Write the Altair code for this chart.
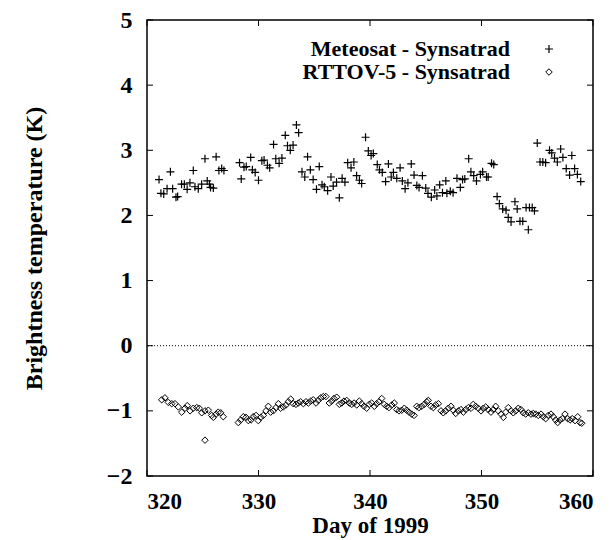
import altair as alt
import pandas as pd

# Meteosat - Synsatrad (plus markers)
met_day = [321.08, 321.25, 321.5, 321.8, 322.1, 322.3, 322.6, 322.75, 323.1, 323.35,
           323.6, 323.85, 324.15, 324.3, 324.6, 324.9, 325.2, 325.4, 325.6, 325.7,
           325.95, 326.2, 326.45, 326.7, 326.9, 328.3, 328.45, 328.7, 328.9, 329.3,
           329.45, 329.7, 330.0, 330.3, 330.5, 330.8, 331.0, 331.35, 331.55, 331.85,
           332.1, 332.4, 332.6, 332.85, 333.1, 333.4, 333.6, 333.9, 334.15, 334.4,
           334.65, 334.9, 335.2, 335.45, 335.7, 335.9, 336.2, 336.5, 336.7, 337.0,
           337.25, 337.5, 337.75, 338.0, 338.3, 338.55, 338.8, 339.05, 339.25, 339.6,
           339.85, 340.1, 340.3, 340.65, 340.85, 341.1, 341.4, 341.65, 341.9, 342.1,
           342.4, 342.7, 342.9, 343.15, 343.4, 343.7, 343.95, 344.2, 344.4, 344.7,
           345.0, 345.2, 345.5, 345.8, 346.0, 346.25, 346.5, 346.8, 346.9, 347.2,
           347.45, 347.8, 348.1, 348.3, 348.5, 348.85, 349.05, 349.3, 349.55, 349.9,
           350.1, 350.45, 350.6, 350.9, 351.1, 351.4, 351.6, 351.9, 352.2, 352.4,
           352.65, 353.0, 353.2, 353.45, 353.7, 354.0, 354.2, 354.3, 354.55, 354.75,
           355.0, 355.25, 355.5, 355.75, 356.1, 356.3, 356.55, 356.8, 357.1, 357.3,
           357.6, 357.9, 358.1, 358.35, 358.6, 358.9]
met_val = [2.55, 2.34, 2.33, 2.41, 2.67, 2.41, 2.28, 2.29, 2.48, 2.48,
           2.40, 2.50, 2.69, 2.44, 2.41, 2.48, 2.87, 2.53, 2.48, 2.43,
           2.42, 2.90, 2.69, 2.72, 2.69, 2.81, 2.56, 2.74, 2.75, 2.89,
           2.70, 2.66, 2.54, 2.84, 2.85, 2.77, 2.73, 3.09, 2.87, 2.80,
           2.88, 3.23, 3.07, 3.00, 3.08, 3.39, 3.27, 2.67, 2.59, 2.90,
           2.70, 2.55, 2.40, 2.75, 2.47, 2.44, 2.38, 2.59, 2.45, 2.51,
           2.27, 2.57, 2.51, 2.81, 2.73, 2.82, 2.61, 2.54, 2.49, 3.20,
           2.99, 2.92, 2.95, 2.78, 2.70, 2.66, 2.52, 2.79, 2.59, 2.66,
           2.57, 2.73, 2.53, 2.41, 2.50, 2.79, 2.62, 2.46, 2.43, 2.61,
           2.42, 2.34, 2.28, 2.39, 2.30, 2.47, 2.35, 2.53, 2.34, 2.37,
           2.35, 2.57, 2.43, 2.55, 2.56, 2.87, 2.67, 2.61, 2.53, 2.63,
           2.67, 2.59, 2.59, 2.80, 2.78, 2.29, 2.18, 2.10, 2.08, 1.97,
           1.90, 2.21, 2.10, 1.91, 1.91, 2.12, 1.78, 2.12, 2.12, 2.07,
           3.11, 2.82, 2.82, 2.81, 3.00, 2.96, 2.88, 2.82, 3.02, 2.89,
           2.72, 2.62, 2.92, 2.72, 2.63, 2.52]

# RTTOV-5 - Synsatrad (diamond markers)
rt_day = [321.32, 321.61, 321.91, 322.22, 322.51, 322.81, 323.11, 323.41, 323.61, 323.86,
          324.15, 324.46, 324.69, 324.91, 325.20, 325.50, 325.80, 325.95, 326.19, 326.39,
          326.61, 326.84, 325.20,
          328.19, 328.40, 328.64, 328.88, 329.09, 329.33, 329.53, 329.78, 329.98, 330.20,
          330.43, 330.67, 330.88, 331.09, 331.33, 331.57, 331.78, 331.99, 332.22, 332.47,
          332.67, 332.89, 333.12, 333.36, 333.57, 333.78, 334.02, 334.26, 334.47, 334.68,
          334.91, 335.16, 335.36, 335.58, 335.81, 336.05, 336.35, 336.57, 336.77, 337.01,
          337.25, 337.46, 337.67, 337.91, 338.14, 338.36, 338.57, 338.81, 339.04, 339.26,
          339.46, 339.70, 339.94, 340.15, 340.39, 340.60, 340.81, 341.05, 341.28, 341.50,
          341.70, 341.95, 342.18, 342.39, 342.60, 342.84, 343.08, 343.29, 343.50, 343.74,
          343.95, 344.19, 344.39, 344.64, 344.87, 345.09, 345.23, 345.47, 345.68, 345.89,
          346.13, 346.37, 346.57, 346.79, 347.02, 347.26, 347.47, 347.69, 347.92, 348.16,
          348.37, 348.58, 348.82, 349.06, 349.26, 349.48, 349.71, 349.96, 350.16, 350.38,
          350.61, 350.85, 351.06, 351.27, 351.51, 351.75, 351.96, 352.17, 352.40, 352.65,
          352.85, 353.07, 353.30, 353.54, 353.75, 353.96, 354.20, 354.44, 354.65, 354.86,
          355.09, 355.34, 355.54, 355.76, 355.99, 356.23, 356.44, 356.65, 356.83, 357.04,
          357.25, 357.49, 357.73, 357.94, 358.14, 358.39, 358.63, 358.83, 358.99]
rt_val = [-0.83, -0.80, -0.87, -0.89, -0.89, -0.94, -1.02, -0.96, -0.92, -1.00,
          -0.96, -0.95, -0.96, -1.03, -1.00, -0.99, -1.07, -1.10, -1.05, -1.02,
          -1.03, -1.09, -1.45,
          -1.18, -1.14, -1.09, -1.10, -1.15, -1.14, -1.09, -1.07, -1.15, -1.10,
          -1.07, -1.00, -0.93, -1.02, -1.00, -0.95, -0.89, -0.96, -0.94, -0.91,
          -0.86, -0.82, -0.89, -0.90, -0.88, -0.86, -0.89, -0.86, -0.88, -0.85,
          -0.83, -0.88, -0.84, -0.80, -0.78, -0.78, -0.88, -0.85, -0.81, -0.79,
          -0.90, -0.88, -0.85, -0.84, -0.88, -0.90, -0.88, -0.91, -0.85, -0.89,
          -0.93, -0.96, -0.90, -0.88, -0.93, -0.89, -0.86, -0.81, -0.90, -0.93,
          -0.95, -0.91, -0.88, -0.98, -1.00, -0.99, -0.96, -0.99, -1.02, -1.05,
          -1.07, -0.93, -0.95, -0.93, -0.90, -0.86, -0.84, -0.93, -0.95, -0.91,
          -0.89, -1.00, -1.03, -1.00, -0.96, -0.93, -0.99, -1.04, -1.00, -0.98,
          -1.02, -0.98, -0.95, -0.96, -0.90, -0.93, -0.96, -1.00, -0.96, -0.94,
          -0.98, -1.02, -0.98, -0.93, -1.00, -1.05, -1.10, -1.02, -0.95, -1.00,
          -1.03, -1.00, -0.96, -0.98, -1.03, -1.05, -1.03, -1.05, -1.04, -1.05,
          -1.07, -1.05, -1.09, -1.12, -1.07, -1.05, -1.09, -1.14, -1.18, -1.14,
          -1.12, -1.05, -1.12, -1.14, -1.12, -1.15, -1.09, -1.18, -1.19]

x_ticks = [320, 330, 340, 350, 360]
y_ticks = [-2, -1, 0, 1, 2, 3, 4, 5]
legend_labels = ["Meteosat - Synsatrad", "RTTOV-5 - Synsatrad"]

W, H = 446, 456
FONT = "Liberation Serif"
PLUS = "M-1,0L1,0M0,-1L0,1"

met = pd.DataFrame({"day": met_day, "val": met_val})
rt = pd.DataFrame({"day": rt_day, "val": rt_val})
xt = pd.DataFrame({"day": x_ticks})
yt = pd.DataFrame({"val": y_ticks})

xscale = alt.Scale(domain=[320, 360], nice=False)
yscale = alt.Scale(domain=[-2, 5], nice=False)

xaxis = alt.Axis(values=x_ticks, grid=False, ticks=False, domain=False,
                 labelFont=FONT, labelFontWeight="bold", labelFontSize=23,
                 labelPadding=14, labelColor="black", format="d",
                 title="Day of 1999", titleFont=FONT, titleFontWeight="bold",
                 titleFontSize=23, titleColor="black", titlePadding=1)
yaxis = alt.Axis(values=y_ticks, grid=False, ticks=False, domain=False,
                 labelFont=FONT, labelFontWeight="bold", labelFontSize=24,
                 labelPadding=15, labelColor="black", format="d",
                 title="Brightness temperature (K)", titleFont=FONT,
                 titleFontWeight="bold", titleFontSize=24, titleColor="black",
                 titlePadding=60)

X = alt.X("day:Q", scale=xscale, axis=xaxis)
Y = alt.Y("val:Q", scale=yscale, axis=yaxis)

plus_layer = alt.Chart(met).mark_point(
    shape=PLUS, filled=False, stroke="black", strokeWidth=1.2, size=64, opacity=1
).encode(x=X, y=Y)

diamond_layer = alt.Chart(rt).mark_point(
    shape="diamond", filled=False, stroke="black", strokeWidth=1, size=42, opacity=1
).encode(x=X, y=Y)

zero_line = alt.Chart(pd.DataFrame({"val": [0]})).mark_rule(
    color="black", strokeWidth=1, strokeDash=[1, 2]
).encode(y=Y)

tl = 6
left_ticks = alt.Chart(yt).mark_rule(color="black", strokeWidth=1).encode(
    y=Y, x=alt.value(0), x2=alt.value(tl))
right_ticks = alt.Chart(yt).mark_rule(color="black", strokeWidth=1).encode(
    y=Y, x=alt.value(W - tl), x2=alt.value(W))
bottom_ticks = alt.Chart(xt).mark_rule(color="black", strokeWidth=1).encode(
    x=X, y=alt.value(H - tl), y2=alt.value(H))
top_ticks = alt.Chart(xt).mark_rule(color="black", strokeWidth=1).encode(
    x=X, y=alt.value(0), y2=alt.value(tl))

leg_text1 = alt.Chart(pd.DataFrame({"l": [legend_labels[0]]})).mark_text(
    font=FONT, fontWeight="bold", fontSize=22, align="right", baseline="middle",
    color="black"
).encode(text="l:N", x=alt.value(363), y=alt.value(29))
leg_text2 = alt.Chart(pd.DataFrame({"l": [legend_labels[1]]})).mark_text(
    font=FONT, fontWeight="bold", fontSize=22, align="right", baseline="middle",
    color="black"
).encode(text="l:N", x=alt.value(363), y=alt.value(52))
leg_sym1 = alt.Chart(pd.DataFrame({"s": [0]})).mark_point(
    shape=PLUS, filled=False, stroke="black", strokeWidth=1.2, size=64, opacity=1
).encode(x=alt.value(402), y=alt.value(29))
leg_sym2 = alt.Chart(pd.DataFrame({"s": [0]})).mark_point(
    shape="diamond", filled=False, stroke="black", strokeWidth=1, size=42, opacity=1
).encode(x=alt.value(402), y=alt.value(52))

chart = alt.layer(
    plus_layer, diamond_layer, zero_line, left_ticks, right_ticks, bottom_ticks,
    top_ticks, leg_text1, leg_text2, leg_sym1, leg_sym2
).properties(
    width=W, height=H, autosize="none",
    padding={"left": 147, "top": 20, "right": 20, "bottom": 64},
    background="white",
).configure_view(stroke="black", strokeWidth=1.5)

chart.save("out.html", embed_options={"renderer": "svg", "actions": False})
